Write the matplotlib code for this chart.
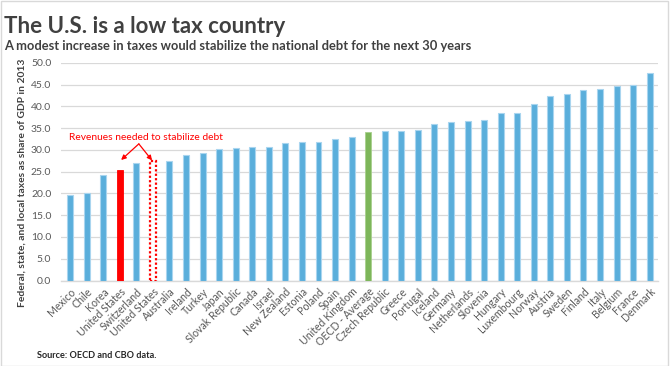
import matplotlib
matplotlib.use('Agg')
import matplotlib.pyplot as plt
from matplotlib.patches import Rectangle

plt.rcParams['font.family'] = ['Lato', 'DejaVu Sans']

# --- data (OECD 2013, share of GDP) ---
countries = ['Mexico', 'Chile', 'Korea', 'United States', 'Switzerland', 'United States',
             'Australia', 'Ireland', 'Turkey', 'Japan', 'Slovak Republic', 'Canada', 'Israel',
             'New Zealand', 'Estonia', 'Poland', 'Spain', 'United Kingdom', 'OECD - Average',
             'Czech Republic', 'Greece', 'Portugal', 'Iceland', 'Germany', 'Netherlands',
             'Slovenia', 'Hungary', 'Luxembourg', 'Norway', 'Austria', 'Sweden', 'Finland',
             'Italy', 'Belgium', 'France', 'Denmark']
values = [19.7, 20.0, 24.3, 25.4, 26.9, 27.4,
          27.5, 28.9, 29.3, 30.3, 30.4, 30.6, 30.6,
          31.5, 31.8, 31.9, 32.6, 32.9, 34.1,
          34.3, 34.4, 34.5, 35.9, 36.5, 36.7,
          36.8, 38.4, 38.4, 40.5, 42.5, 42.8, 43.7,
          43.9, 44.6, 45.0, 47.6]
yticks = [0, 5, 10, 15, 20, 25, 30, 35, 40, 45, 50]

US_IDX = 3
NEEDED_IDX = 5
OECD_IDX = 18

BLUE = '#5AAEDB'
BLUE_EDGE = '#A9D5EF'
RED = '#FF0000'
GREEN = '#7DB65A'
TEXT = '#595959'
DARK = '#404040'

fig = plt.figure(figsize=(6.71, 3.66), dpi=100)
ax = fig.add_axes([0.0909, 0.2336, 0.8897, 0.5944])

x = list(range(len(countries)))
for i, v in zip(x, values):
    if i == US_IDX:
        ax.bar(i, v, width=0.36, color=RED, edgecolor=RED, linewidth=0.6, zorder=3)
    elif i == NEEDED_IDX:
        ax.bar(i, v, width=0.36, color='white', edgecolor=RED, linewidth=1.6,
               linestyle=(0, (1, 1)), zorder=3)
    elif i == OECD_IDX:
        ax.bar(i, v, width=0.36, color=GREEN, edgecolor='#A8D08D', linewidth=0.6, zorder=3)
    else:
        ax.bar(i, v, width=0.36, color=BLUE, edgecolor=BLUE_EDGE, linewidth=0.8, zorder=3)

ax.set_xlim(-0.55, 35.5)
ax.set_ylim(0, 50)
ax.set_yticks(yticks)
ax.set_yticklabels([f'{t:.1f}' for t in yticks], fontsize=7.5, color=TEXT)
ax.yaxis.grid(True, color='#D9D9D9', linewidth=0.9, zorder=0)
ax.set_axisbelow(True)
ax.tick_params(axis='y', length=0, pad=7)
ax.tick_params(axis='x', length=0, pad=4)
ax.set_xticks(x)
ax.set_xticklabels(countries, rotation=45, ha='right', rotation_mode='anchor',
                   fontsize=7.6, color=TEXT)
for s in ['top', 'right', 'left']:
    ax.spines[s].set_visible(False)
ax.spines['bottom'].set_color('#D9D9D9')
ax.spines['bottom'].set_linewidth(1.0)

fig.text(22 / 671, 1 - 183 / 366, 'Federal, state, and local taxes as share of GDP in 2013',
         fontsize=7.4, fontweight='bold', color=DARK, rotation=90, ha='center', va='center')

# annotation
ax.text(4.6, 32.9, 'Revenues needed to stabilize debt', color=RED, fontsize=7.4,
        ha='center', va='center', zorder=5)
for tx, ty in [(3.08, 27.7), (4.95, 27.6)]:
    ax.annotate('', xy=(tx, ty), xytext=(4.15, 31.4),
                arrowprops=dict(arrowstyle='-|>', color=RED, lw=0.9,
                                mutation_scale=7, shrinkA=0, shrinkB=0), zorder=5)

fig.text(0.006, 1 - 33 / 366, 'The U.S. is a low tax country', fontsize=16, fontweight='bold',
         color=DARK, va='baseline', ha='left')
fig.text(0.006, 1 - 50 / 366, 'A modest increase in taxes would stabilize the national debt for the next 30 years',
         fontsize=9.3, fontweight='bold', color=DARK, va='baseline', ha='left')
fig.text(37 / 671, 1 - 358 / 366, 'Source: OECD and CBO data.', fontsize=6.6, fontweight='bold',
         color='#262626', va='baseline', ha='left')

fig.patches.append(Rectangle((0.001, 0.001), 0.994, 0.997, transform=fig.transFigure,
                             fill=False, edgecolor='#D9D9D9', linewidth=1.0))

fig.savefig('out.png', dpi=100)
